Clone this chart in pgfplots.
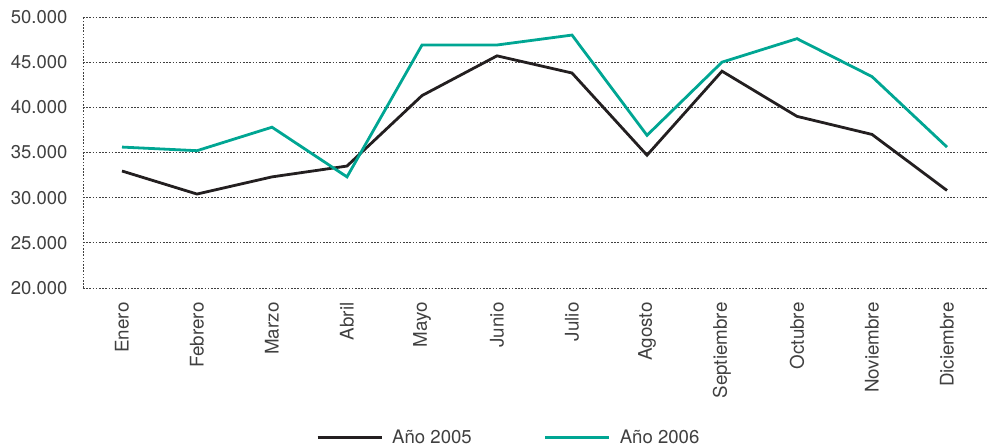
\documentclass[border=0pt]{standalone}
\usepackage{fontspec}
\setmainfont{TeX Gyre Heros}
\usepackage{pgfplots}
\pgfplotsset{compat=1.18}
\definecolor{darkl}{HTML}{231F20}
\definecolor{tealc}{HTML}{00A693}
\definecolor{txt}{HTML}{404040}
\begin{document}
\begin{tikzpicture}
\begin{axis}[
  at={(0,0)}, anchor=south west,
  scale only axis, width=906pt, height=271pt,
  xmin=-0.52, xmax=11.56, ymin=20000, ymax=50000,
  ytick={20000,25000,...,50000},
  xtick={0,...,11},
  xticklabels={Enero,Febrero,Marzo,Abril,Mayo,Junio,Julio,Agosto,Septiembre,Octubre,Noviembre,Diciembre},
  x tick label style={rotate=90, anchor=east, font=\fontsize{18.8}{20}\selectfont, text=txt},
  y tick label style={font=\fontsize{18.5}{20}\selectfont, text=txt},
  xticklabel shift=11pt,
  yticklabel shift=12pt,
  /pgf/number format/fixed,
  /pgf/number format/1000 sep={.},
  /pgf/number format/assume math mode=true,
  scaled y ticks=false,
  major tick length=0pt,
  axis line style={draw=none},
  ymajorgrids,
  major grid style={black!75, line width=0.9pt, dash pattern=on 1.6pt off 1.6pt},
  legend columns=2,
  legend style={draw=none, at={(axis description cs:0.470,-0.55)}, anchor=center,
    font=\fontsize{18.6}{20}\selectfont, text=txt,
    /tikz/every odd column/.append style={column sep=7pt},
    /tikz/every even column/.append style={column sep=70pt}},
  legend image code/.code={\draw[#1, line width=3pt] (0pt,0pt) -- (64pt,0pt);},
]
\draw[black!75, line width=0.9pt, dash pattern=on 1.6pt off 1.6pt] (rel axis cs:0,0) -- (rel axis cs:0,1);
\addplot[darkl, line width=2.8pt] coordinates {
(0,32950) (1,30400) (2,32300) (3,33500) (4,41300) (5,45700) (6,43800) (7,34700) (8,44000) (9,39000) (10,37000) (11,30800)};
\addlegendentry{Año 2005}
\addplot[tealc, line width=2.8pt] coordinates {
(0,35600) (1,35200) (2,37800) (3,32300) (4,46900) (5,46900) (6,48000) (7,36900) (8,45000) (9,47600) (10,43400) (11,35600)};
\addlegendentry{Año 2006}
\end{axis}
\pgfresetboundingbox
\path (-83pt,-158pt) rectangle (906pt,288pt);
\end{tikzpicture}
\end{document}
